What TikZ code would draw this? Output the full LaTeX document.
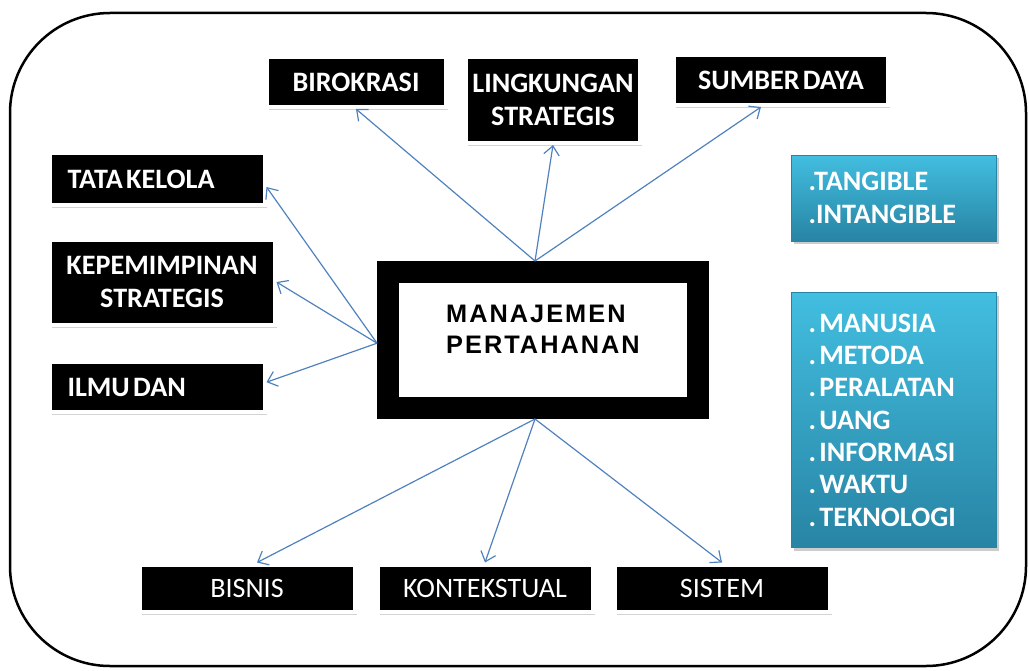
\documentclass[tikz,border=0pt]{standalone}
\usepackage{fontspec}
\setmainfont{Carlito}[WordSpace=0.5]
\newfontfamily\mpfont{Liberation Sans}[LetterSpace=8]
\usetikzlibrary{arrows.meta,positioning,shadows}
\newdimen\pu \pu=0.025cm
\newcommand\tsp{\hspace{0.12em}}
\definecolor{arrowblue}{RGB}{79,129,189}
\definecolor{tealtop}{RGB}{66,190,224}
\definecolor{tealbot}{RGB}{40,132,164}

\begin{document}
\begin{tikzpicture}[x=1\pu, y=-1\pu]
    \useasboundingbox (0,0) rectangle (1029,670);
    %Frame
    \draw[line width=2.5\pu, rounded corners=100\pu] (10,13) rectangle (1026,666);

    %Black boxes
    \begin{scope}[every node/.style={rectangle, fill=black, draw=white, line width=4\pu,
        text=white, font=\bfseries\fontsize{20}{23}\selectfont, align=center,
        drop shadow={opacity=0.35, shadow xshift=2\pu, shadow yshift=-3\pu}}]
      \node[minimum width=179\pu, minimum height=50\pu] (biro) at (356,82) {BIROKRASI};
      \node[minimum width=174\pu, minimum height=86\pu] (ling) at (553,100) {LINGKUNGAN\\STRATEGIS};
      \node[minimum width=214\pu, minimum height=50\pu] (sdm) at (781,80) {SUMBER DAYA};
      \node[text width=179\pu, inner xsep=18\pu, align=left, minimum height=52\pu] (tata) at (157,179) {TATA\tsp KELOLA};
      \node[minimum width=225\pu, minimum height=85\pu] (kep) at (162,282) {KEPEMIMPINAN\\STRATEGIS};
      \node[text width=179\pu, inner xsep=18\pu, align=left, minimum height=50\pu] (ilmu) at (157,387) {ILMU\tsp DAN};
      \node[font=\fontsize{20}{23}\selectfont, minimum width=215\pu, minimum height=47\pu] (bis) at (247,588) {BISNIS};
      \node[font=\fontsize{20}{23}\selectfont, minimum width=215\pu, minimum height=47\pu] (kon) at (485,588) {KONTEKSTUAL};
      \node[font=\fontsize{20}{23}\selectfont, minimum width=215\pu, minimum height=47\pu] (sis) at (722,588) {SISTEM};
    \end{scope}

    %Centre
    \node[draw=black, line width=22\pu, fill=white, minimum width=310\pu, minimum height=136\pu,
      align=left, text depth=0.55cm, font=\mpfont\bfseries\fontsize{18}{22}\selectfont,
      drop shadow={opacity=0.3, shadow xshift=2\pu, shadow yshift=-3\pu}]
      (mp) at (543,340) {MANAJEMEN\\PERTAHANAN};

    %Teal boxes
    \begin{scope}[every node/.style={rectangle, top color=tealtop, bottom color=tealbot,
        draw=tealbot, line width=1\pu, text=white, text width=171\pu, inner xsep=17\pu,
        align=left, font=\bfseries\fontsize{20}{23}\selectfont,
        drop shadow={opacity=0.4, shadow xshift=2\pu, shadow yshift=-3\pu}}]
      \node[minimum height=86\pu] (tang) at (894,198) {.TANGIBLE\\.INTANGIBLE};
      \node[minimum height=255\pu] (res) at (894,420)
        {.\tsp MANUSIA\\.\tsp METODA\\.\tsp PERALATAN\\.\tsp UANG\\.\tsp INFORMASI\\.\tsp WAKTU\\.\tsp TEKNOLOGI};
    \end{scope}

    %Arrows
    \begin{scope}[every edge/.style={draw=arrowblue, line width=0.85pt,
        -{Straight Barb[length=6.4pt, width=11pt]}}]
      \path ([xshift=-0.2cm]mp.north) edge (biro.south);
      \path ([xshift=-0.2cm]mp.north) edge (ling.south);
      \path ([xshift=-0.2cm]mp.north) edge ([xshift=-0.5cm]sdm.south);
      \path ([yshift=-0.08cm]mp.west) edge ([yshift=-0.2cm]tata.east);
      \path ([yshift=-0.08cm]mp.west) edge (kep.east);
      \path ([yshift=-0.08cm]mp.west) edge ([yshift=0.12cm]ilmu.east);
      \path ([xshift=-0.2cm]mp.south) edge ([xshift=0.25cm]bis.north);
      \path ([xshift=-0.2cm]mp.south) edge (kon.north);
      \path ([xshift=-0.2cm]mp.south) edge (sis.north);
    \end{scope}
\end{tikzpicture}
\end{document}
